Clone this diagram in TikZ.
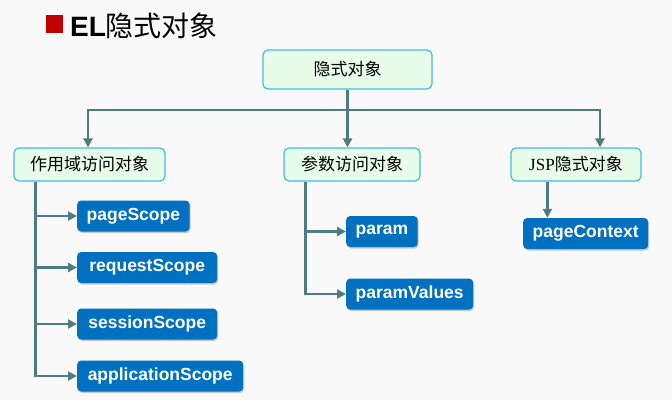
\documentclass[tikz,border=0pt]{standalone}
\usepackage{fontspec}
\setmainfont{Liberation Serif}
\setsansfont{Liberation Sans}
\newfontfamily\cjk{Noto Sans CJK SC}
\usetikzlibrary{positioning,arrows.meta,shadows}
\definecolor{linkgray}{RGB}{79,124,126}
\definecolor{boxblue}{RGB}{0,112,192}
\definecolor{boxgreen}{RGB}{232,252,234}
\definecolor{boxcyan}{RGB}{62,190,222}
\definecolor{titlered}{RGB}{192,0,0}
\definecolor{bggray}{RGB}{249,249,249}

\begin{document}
\begin{tikzpicture}[x=1pt,y=-1pt,
  group/.style={draw=boxcyan,line width=1.2pt,fill=boxgreen,rounded corners=5pt,
    minimum height=33pt,inner sep=0pt,font=\cjk\fontsize{17}{17}\selectfont},
  leaf/.style={fill=boxblue,text=white,rounded corners=4pt,anchor=west,
    minimum height=31pt,inner xsep=9.5pt,font=\sffamily\bfseries\fontsize{17.5}{17.5}\selectfont,
    drop shadow={shadow xshift=1pt,shadow yshift=-1.5pt,fill=black!35,opacity=0.6}},
  link/.style={draw=linkgray,line width=2.9pt},
  arr/.style={link,-{Triangle[length=9pt,width=9pt]}}]
  \fill[bggray] (0,0) rectangle (672,400);
  % title
  \fill[titlered] (46,15) rectangle (63,33);
  \node[anchor=west,inner sep=0pt] (title) at (70,26)
    {\sffamily\bfseries\fontsize{28}{28}\selectfont EL{\cjk\mdseries 隐式对象}};
  % groups
  \node[group,minimum width=169pt,minimum height=39pt] (root) at (347.5,69.5) {隐式对象};
  \node[group,minimum width=151pt] (scope) at (89.5,164.5) {作用域访问对象};
  \node[group,minimum width=136pt] (access) at (352,164.5) {参数访问对象};
  \node[group,minimum width=130pt] (jsp) at (576,164.5) {{\rmfamily JSP}隐式对象};
  \coordinate (bus) at (347,110);
  \draw[link] (root.south) -- (root.south |- bus);
  \draw[arr] (root.south) -- (root.south |- access.north);
  \draw[arr] (bus) -| ([xshift=-1.5pt]scope.north);
  \draw[arr] (bus) -| ([xshift=24pt]jsp.north);
  % scope objects
  \coordinate (scopeleg) at ([xshift=22pt]scope.south west);
  \foreach \name/\y/\w in {pageScope/216/112, requestScope/267.5/140,
      sessionScope/324/140, applicationScope/376/166} {
    \node[leaf,minimum width=\w pt] (\name) at (77,\y) {\name};
    \draw[arr] (scopeleg) |- (\name.west);
  }
  % parameter objects
  \coordinate (accessleg) at ([xshift=22pt]access.south west);
  \foreach \name/\y in {param/231.5, paramValues/294} {
    \node[leaf] (\name) at (346,\y) {\name};
    \draw[arr] (accessleg) |- (\name.west);
  }
  % jsp object
  \node[leaf] (pageContext) at (523,233.5) {pageContext};
  \coordinate (jspleg) at ([xshift=37pt]jsp.south west);
  \draw[arr] (jspleg) -- (jspleg |- pageContext.north);
\end{tikzpicture}
\end{document}
